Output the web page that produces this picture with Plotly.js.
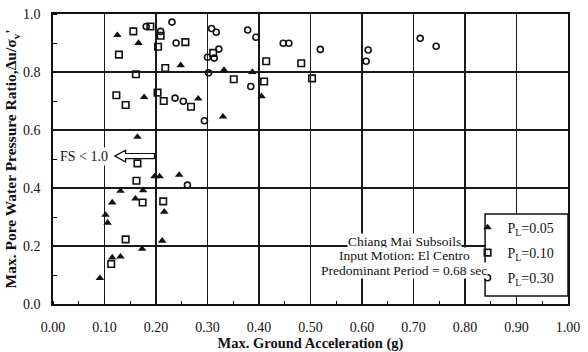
<!DOCTYPE html>
<html><head><meta charset="utf-8">
<script src="https://cdn.plot.ly/plotly-3.0.1.min.js"></script>
<style>body{margin:0;background:#fff}</style>
</head><body><div id="chart" style="width:588px;height:352px"></div>
<script>
// PL = 0.05 (filled triangles)
const triX = [0.125,0.166,0.177,0.248,0.332,0.387,0.282,0.405,0.330,0.164,0.197,0.207,0.245,0.131,0.175,0.115,0.160,0.216,0.102,0.106,0.212,0.173,0.115,0.131,0.091];
const triY = [0.927,0.900,0.713,0.823,0.807,0.800,0.708,0.716,0.646,0.576,0.440,0.440,0.445,0.390,0.392,0.350,0.363,0.318,0.307,0.280,0.218,0.190,0.160,0.163,0.089];
// PL = 0.10 (open squares)
const sqX = [0.156,0.189,0.209,0.204,0.128,0.218,0.161,0.123,0.141,0.203,0.215,0.257,0.311,0.268,0.351,0.414,0.482,0.410,0.503,0.164,0.162,0.174,0.214,0.141,0.113];
const sqY = [0.940,0.957,0.925,0.887,0.860,0.814,0.792,0.720,0.686,0.729,0.700,0.903,0.866,0.680,0.775,0.837,0.830,0.767,0.778,0.485,0.425,0.350,0.354,0.223,0.138];
// PL = 0.30 (open circles)
const ciX = [0.181,0.209,0.231,0.308,0.317,0.378,0.239,0.394,0.322,0.300,0.313,0.302,0.384,0.237,0.253,0.447,0.458,0.519,0.612,0.608,0.713,0.744,0.294,0.261];
const ciY = [0.957,0.940,0.972,0.950,0.937,0.945,0.900,0.920,0.879,0.851,0.848,0.797,0.750,0.710,0.699,0.899,0.899,0.878,0.876,0.837,0.916,0.889,0.632,0.410];

const seriesNames = ["P<sub>L</sub>=0.05","P<sub>L</sub>=0.10","P<sub>L</sub>=0.30"];
const xTickVals = [0,0.1,0.2,0.3,0.4,0.5,0.6,0.7,0.8,0.9,1.0];
const xTickText = ["0.00","0.10","0.20","0.30","0.40","0.50","0.60","0.70","0.80","0.90","1.00"];
const yTickVals = [0,0.2,0.4,0.6,0.8,1.0];
const yTickText = ["0.0","0.2","0.4","0.6","0.8","1.0"];
const noteLines = ["Chiang Mai Subsoils","Input Motion: El Centro","Predominant Period = 0.68 sec"];
const fsLabel = "FS < 1.0";

const SERIF = "Liberation Serif, Times New Roman, serif";

const traces = [
  {x: triX, y: triY, name: seriesNames[0], legendgroup:"a", mode:"markers", type:"scatter",
   marker:{symbol:"triangle-up", size:7.5, color:"#111", line:{width:0}}},
  {x: sqX, y: sqY, name: seriesNames[1], legendgroup:"b", mode:"markers", type:"scatter",
   marker:{symbol:"square-open", size:6.5, color:"#111", line:{width:1.6}}},
  {x: ciX, y: ciY, name: seriesNames[2], legendgroup:"c", mode:"markers", type:"scatter",
   marker:{symbol:"circle-open", size:6, color:"#111", line:{width:1.6}}}
];

// hollow arrow (annotation graphic) in data units
const ar = {tip:0.12, base:0.141, tail:0.197, yc:0.51, s:0.009, h:0.02};
const arrowPath = `M ${ar.tail},${ar.yc+ar.s} L ${ar.base},${ar.yc+ar.s} L ${ar.base},${ar.yc+ar.h} L ${ar.tip},${ar.yc} L ${ar.base},${ar.yc-ar.h} L ${ar.base},${ar.yc-ar.s} L ${ar.tail},${ar.yc-ar.s} Z`;

const noteY = [0.215, 0.167, 0.117];
const annotations = noteLines.map((t,i)=>({
  x:0.682, y:noteY[i], xref:"x", yref:"y", text:t, showarrow:false,
  font:{family:SERIF, size:13.5, color:"#111"}, bgcolor:"#fff", borderpad:0
}));
annotations.push({x:0.111, y:0.51, xref:"x", yref:"y", text:fsLabel, showarrow:false, xanchor:"right",
  font:{family:SERIF, size:14, color:"#111"}, bgcolor:"#fff", borderpad:1});

const layout = {
  width:588, height:352,
  margin:{l:52.5, r:20, t:14, b:48},
  paper_bgcolor:"#fff", plot_bgcolor:"#fff",
  font:{family:SERIF, color:"#111"},
  showlegend:true,
  legend:{x:0.805, y:0.318, xanchor:"left", yanchor:"top", bgcolor:"rgba(0,0,0,0)", borderwidth:0,
    font:{family:SERIF, size:14, color:"#111"}, tracegroupgap:4, itemwidth:30, valign:"middle"},
  xaxis:{range:[0,1], tickmode:"array", tickvals:xTickVals, ticktext:xTickText,
    showgrid:true, gridcolor:"#1a1a1a", gridwidth:1.3, zeroline:false,
    showline:true, linecolor:"#111", linewidth:1.8, mirror:true, ticks:"", ticklabelstandoff:9,
    tickfont:{family:SERIF, size:14, color:"#111"},
    minor:{tickmode:"linear", tick0:0, dtick:0.05, ticks:"inside", ticklen:3, tickcolor:"#111", showgrid:false},
    title:{text:"<b>Max. Ground Acceleration (g)</b>", font:{family:SERIF, size:14.5, color:"#111"}, standoff:4}},
  yaxis:{range:[0,1], tickmode:"array", tickvals:yTickVals, ticktext:yTickText,
    showgrid:true, gridcolor:"#1a1a1a", gridwidth:1.3, zeroline:false,
    showline:true, linecolor:"#111", linewidth:1.8, mirror:true, ticks:"", ticklabelstandoff:8,
    tickfont:{family:SERIF, size:14, color:"#111"},
    minor:{tickmode:"linear", tick0:0, dtick:0.1, ticks:"inside", ticklen:4, tickcolor:"#111", showgrid:false},
    title:{text:"<b>Max. Pore Water Pressure Ratio,Δu/σ<sub>v</sub>'</b>", font:{family:SERIF, size:15.5, color:"#111"}, standoff:2}},
  shapes:[
    {type:"path", path:arrowPath, xref:"x", yref:"y", fillcolor:"#fff", line:{color:"#111", width:1.2}, layer:"above"},
    {type:"rect", xref:"paper", yref:"paper", x0:0.839, x1:1.0, y0:0.028, y1:0.31, fillcolor:"#fff", line:{color:"#111", width:1.5}, layer:"above"}
  ],
  annotations: annotations
};

Plotly.newPlot("chart", traces, layout, {displayModeBar:false, staticPlot:true});
</script></body></html>
